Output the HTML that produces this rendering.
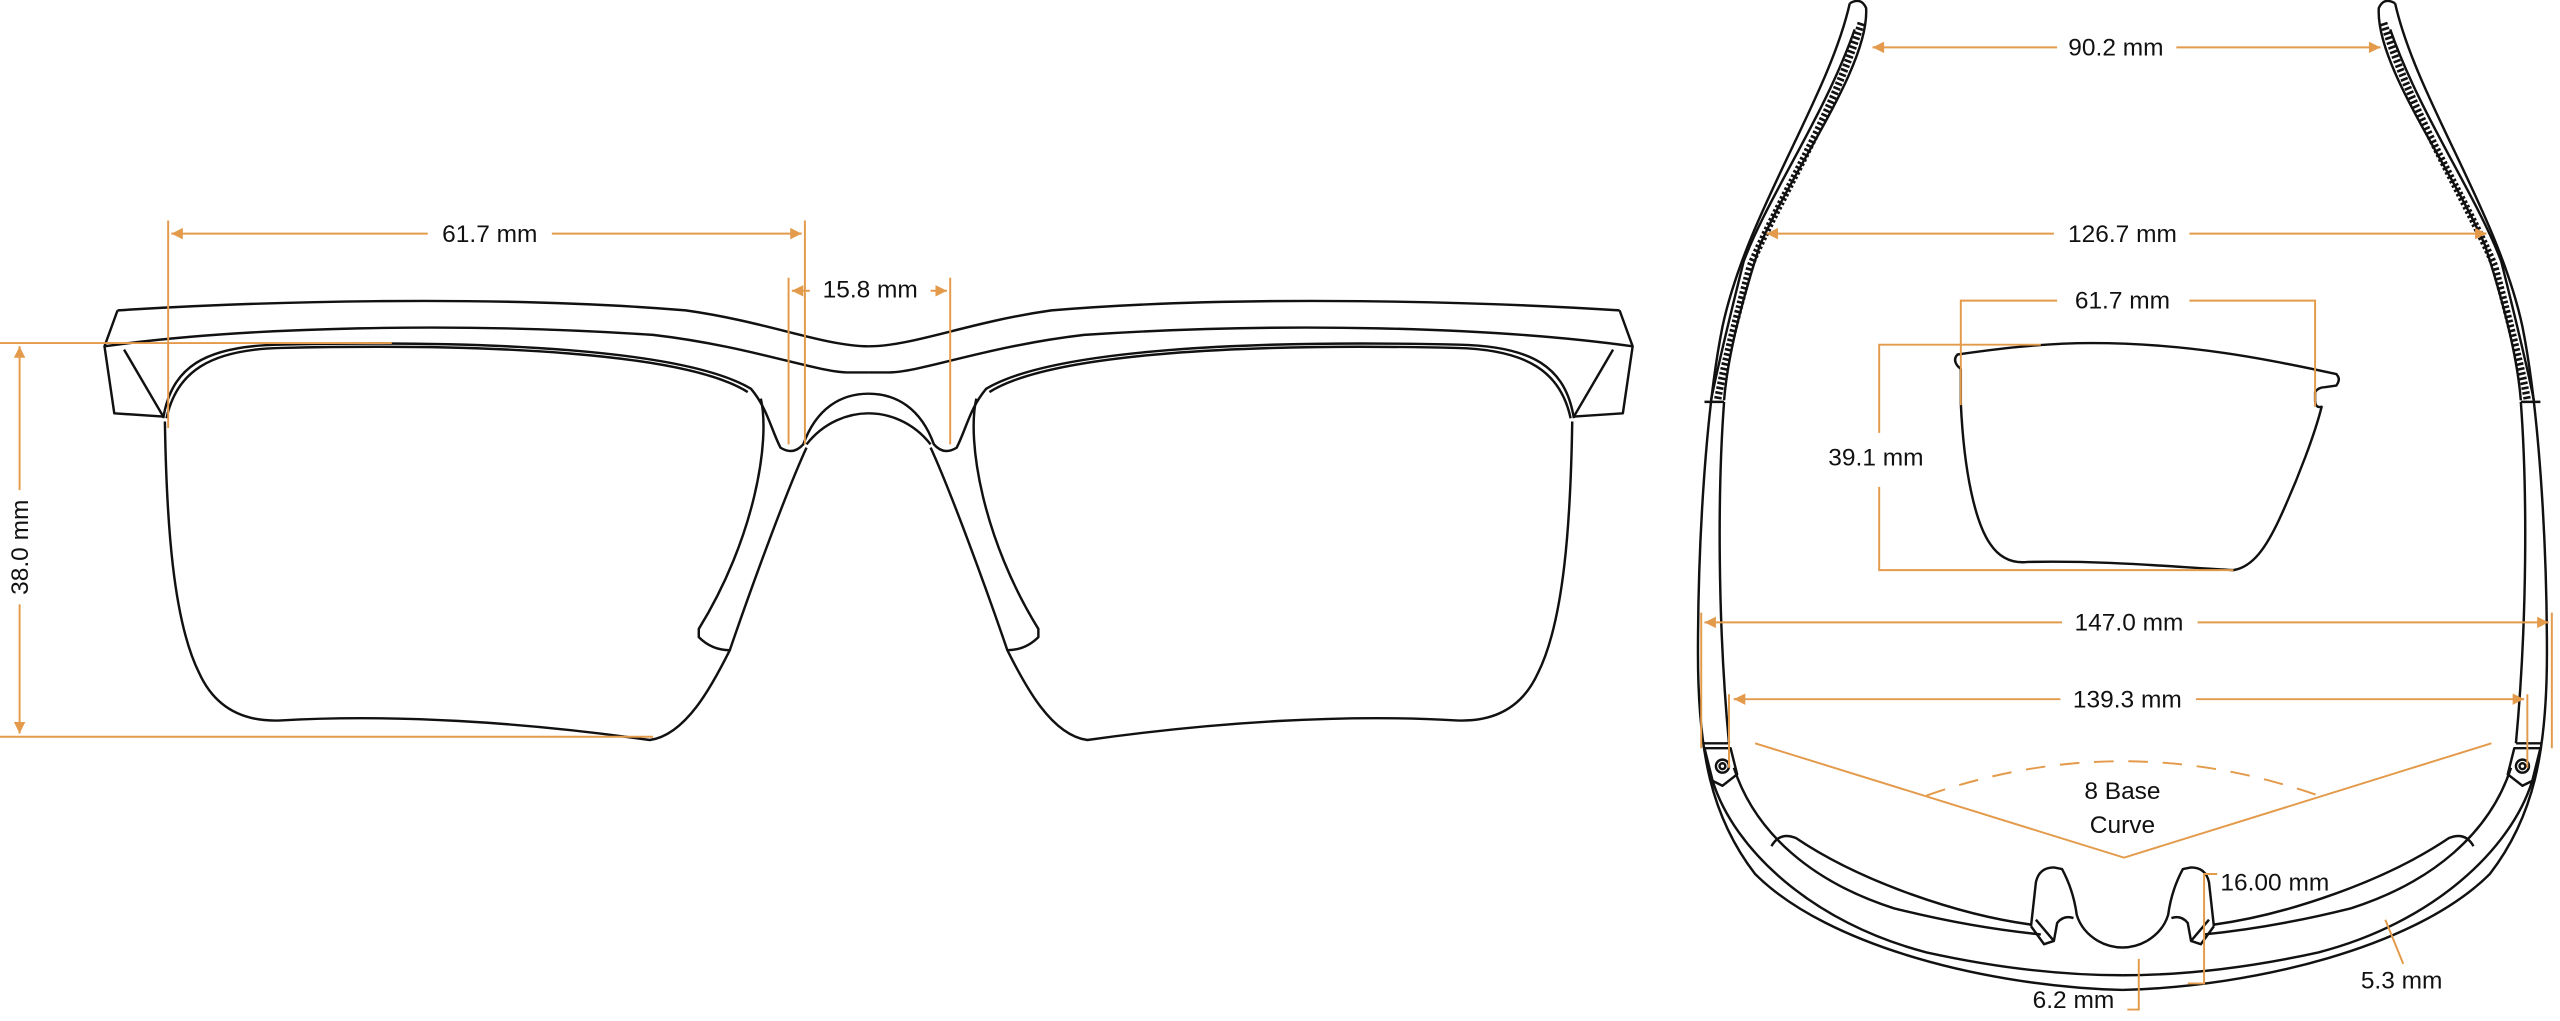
<!DOCTYPE html>
<html><head><meta charset="utf-8"><style>
html,body{margin:0;padding:0;background:#fff}
svg{display:block}
text{font-family:"Liberation Sans",Arial,sans-serif;font-size:15px;fill:#111}
</style></head><body>
<svg width="2560" height="1021" viewBox="0 0 1568 625" preserveAspectRatio="none" xmlns="http://www.w3.org/2000/svg">
<defs>
<marker id="a" viewBox="0 0 10 10" refX="10" refY="5" markerWidth="10" markerHeight="7" markerUnits="userSpaceOnUse" orient="auto-start-reverse"><path d="M0,0 L10,5 L0,10 Z" fill="#e39a4b"/></marker>
</defs>
<rect width="1568" height="625" fill="#fff"/>

<!-- FRONT VIEW -->
<g id="half" fill="none" stroke="#111" stroke-width="1.5" stroke-linejoin="round">
 <path d="M72,190 C150,185 300,180 420,190 C470,197 505,212 532,212"/>
 <path d="M64,212 C150,200 280,197 400,205 C460,212 500,228 520,228 L532,228"/>
 <path d="M72,190 L64,212 L70,253 L100,255 M76,214 L100,255"/>
 <path d="M100,256 C105,225 125,212 170,211 C300,208 420,214 460,238 C470,250 472,262 478,274 Q486,279 492,272 C500,250 515,241 532,241"/>
 <path d="M102,256 C108,228 128,214 172,213 C300,210 420,216 458,240"/>
 <path d="M494,272 C505,258 520,253 532,253"/>
 <path d="M101,258 C102,320 106,380 122,412 C132,434 150,442 172,441 C240,437 320,442 398,453 C420,450 436,420 447,398 C460,360 482,300 494,274"/>
 <path d="M466,244 C472,270 462,330 428,385 L428,390 Q436,398 447,398"/>
</g>
<use href="#half" transform="translate(1064,0) scale(-1,1)"/>

<g fill="none" stroke="#e39a4b" stroke-width="1.2">
 <path d="M103,135 V262 M493,135 V272 M483,170 V272 M582,170 V272"/>
 <path d="M105,143 H262 M338,143 H491" />
 <path d="M105,143 H108" marker-start="url(#a)"/>
 <path d="M488,143 H491" marker-end="url(#a)"/>
 <path d="M485,178 H496" marker-start="url(#a)"/>
 <path d="M570,178 H580" marker-end="url(#a)"/>
 <path d="M0,210 H240 M0,451 H400"/>
 <path d="M12,212 V300 M12,370 V449"/>
 <path d="M12,212 V216" marker-start="url(#a)"/>
 <path d="M12,445 V449" marker-end="url(#a)"/>
</g>
<text x="300" y="148" text-anchor="middle">61.7 mm</text>
<text x="533" y="182" text-anchor="middle">15.8 mm</text>
<text transform="translate(17,335) rotate(-90)" text-anchor="middle">38.0 mm</text>

<!-- TOP VIEW -->
<g id="thalf" fill="none" stroke="#111" stroke-width="1.5" stroke-linejoin="round">
 <path d="M1133,2 C1120,60 1070,130 1055,200 C1045,250 1040,330 1040,400 C1040,460 1048,500 1075,535 C1120,580 1220,604 1300,606"/>
 <path d="M1133,2 Q1140,-2 1143,5 C1145,40 1100,100 1078,150 C1065,190 1058,220 1056,245"/>
 <path d="M1136,18 C1118,70 1083,120 1068,160 C1058,200 1051,230 1048,245"/>
 <path d="M1140,14 C1122,72 1088,125 1072,163 C1062,200 1055,228 1052,245" stroke-width="4.5" stroke-dasharray="1.6 1.4"/>
 <path d="M1044,246 H1056 M1056,246 C1052,300 1052,380 1059,455 M1043,455 H1059"/>
 <path d="M1044,458 L1060,458 L1064,474 L1055,481 L1049,478 Z"/>
 <circle cx="1055" cy="469" r="4"/><circle cx="1055" cy="469" r="1.8"/>
 <path d="M1049,478 C1062,520 1110,565 1180,583 C1230,594 1270,597 1300,597"/>
 <path d="M1062,470 C1075,510 1110,540 1160,556 C1200,566 1230,570 1250,572"/>
 <path d="M1085,518 Q1090,509 1100,513 C1140,540 1200,560 1244,566"/>
 <path d="M1285,576 Q1292,580 1300,580"/>
 <path d="M1244,567 L1247,540 Q1249,531 1258,531 L1263,532 Q1270,545 1272,560 Q1275,570 1285,576"/>
 <path d="M1244,567 L1252,578 L1258,576 L1260,565 Q1264,560 1270,562 M1247,563 L1258,576"/>
</g>
<use href="#thalf" transform="translate(2600,0) scale(-1,1)"/>

<g fill="none" stroke="#111" stroke-width="1.5" stroke-linejoin="round">
 <path d="M1199,217 Q1196,220 1199,224 L1201,226 L1201,247 C1203,290 1210,320 1219,333 C1225,342 1233,345 1242,344 C1290,343 1330,347 1368,349 C1380,347 1388,335 1396,318 C1408,292 1418,265 1422,249 Q1418,250 1418,245 L1418,240 Q1420,237 1424,237 L1431,236 Q1434,232 1431,229 C1390,220 1340,210 1281,210 C1250,210 1220,214 1199,217 Z"/>
</g>

<g fill="none" stroke="#e39a4b" stroke-width="1.2">
 <path d="M1147,29 H1260 M1333,29 H1458"/>
 <path d="M1147,29 H1150" marker-start="url(#a)"/><path d="M1455,29 H1458" marker-end="url(#a)"/>
 <path d="M1082,143 H1258 M1341,143 H1523"/>
 <path d="M1082,143 H1085" marker-start="url(#a)"/><path d="M1520,143 H1523" marker-end="url(#a)"/>
 <path d="M1201,248 V184 H1260 M1341,184 H1418 V249"/>
 <path d="M1250,211 H1151 V265 M1151,298 V349 H1368"/>
 <path d="M1044,381 H1263 M1346,381 H1561"/>
 <path d="M1044,381 H1047" marker-start="url(#a)"/><path d="M1558,381 H1561" marker-end="url(#a)"/>
 <path d="M1042,375 V458 M1563,375 V458"/>
 <path d="M1062,428 H1262 M1345,428 H1546"/>
 <path d="M1062,428 H1065" marker-start="url(#a)"/><path d="M1543,428 H1546" marker-end="url(#a)"/>
 <path d="M1059,425 V470 M1548,425 V470"/>
 <path d="M1075,455 L1301,525 L1526,455"/>
 <path d="M1180,487 Q1300,445 1420,487" stroke-dasharray="12 9"/>
 <path d="M1358,535 H1350 V602 H1340"/>
 <path d="M1310,587 V618 H1303"/>
 <path d="M1461,563 L1472,590"/>
</g>
<text x="1296" y="34" text-anchor="middle">90.2 mm</text>
<text x="1300" y="148" text-anchor="middle">126.7 mm</text>
<text x="1300" y="189" text-anchor="middle">61.7 mm</text>
<text x="1149" y="285" text-anchor="middle">39.1 mm</text>
<text x="1304" y="386" text-anchor="middle">147.0 mm</text>
<text x="1303" y="433" text-anchor="middle">139.3 mm</text>
<text x="1300" y="489" text-anchor="middle">8 Base</text>
<text x="1300" y="510" text-anchor="middle">Curve</text>
<text x="1360" y="545">16.00 mm</text>
<text x="1245" y="617">6.2 mm</text>
<text x="1446" y="605">5.3 mm</text>
</svg>
</body></html>
